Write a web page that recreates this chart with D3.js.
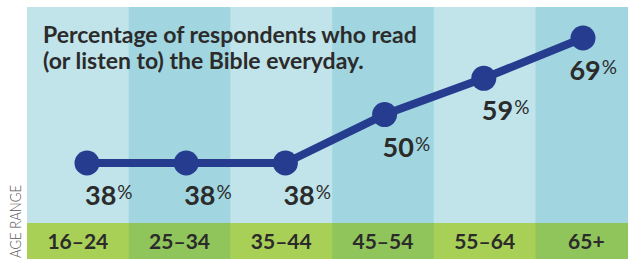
<!DOCTYPE html>
<html>
<head>
<meta charset="utf-8">
<script src="https://cdn.jsdelivr.net/npm/d3@7"></script>
<style>
  body { margin: 0; background: #fff; }
  svg { display: block; }
</style>
</head>
<body>
<svg width="628" height="259"></svg>
<script>
const ageRanges = ["16-24", "25-34", "35-44", "45-54", "55-64", "65+"];
const readersPct = [38, 38, 38, 50, 59, 69];
const titleLines = ["Percentage of respondents who read", "(or listen to) the Bible everyday."];
const axisTitle = "AGE RANGE";

const width = 628, height = 259;
const plotLeft = 27, plotTop = 7, bandTop = 223;
const colW = 101.7;

const svg = d3.select("svg");

const x = d3.scaleBand()
    .domain(ageRanges)
    .range([plotLeft, plotLeft + colW * ageRanges.length])
    .paddingInner(0);

const px = d3.scalePoint()
    .domain(ageRanges)
    .range([87, 583]);

const y = d3.scaleLinear()
    .domain([38, 69])
    .range([163, 38]);

// background columns
svg.append("g").selectAll("rect")
    .data(ageRanges)
    .enter().append("rect")
    .attr("x", d => x(d))
    .attr("y", plotTop)
    .attr("width", x.bandwidth() + 0.5)
    .attr("height", bandTop - plotTop)
    .attr("fill", (d, i) => i % 2 ? "#a1d6e0" : "#c1e3ea");

// green age band
svg.append("g").selectAll("rect")
    .data(ageRanges)
    .enter().append("rect")
    .attr("x", d => x(d))
    .attr("y", bandTop)
    .attr("width", x.bandwidth() + 0.5)
    .attr("height", height - bandTop)
    .attr("fill", (d, i) => i % 2 ? "#8fc55a" : "#a9d056");

svg.append("g").selectAll("text")
    .data(ageRanges)
    .enter().append("text")
    .attr("x", d => x(d) + x.bandwidth() / 2)
    .attr("y", 249)
    .attr("text-anchor", "middle")
    .attr("font-family", "Lato, sans-serif")
    .attr("font-weight", 700)
    .attr("font-size", 21)
    .attr("fill", "#2b2b2b")
    .text(d => d.replace("-", "\u2013"));

// axis title
svg.append("text")
    .attr("transform", "translate(21,258) rotate(-90)")
    .attr("font-family", "Lato, sans-serif")
    .attr("font-weight", 300)
    .attr("font-size", 16.5)
    .attr("fill", "#555")
    .attr("textLength", 73)
    .attr("lengthAdjust", "spacingAndGlyphs")
    .text(axisTitle);

// title
svg.append("text")
    .attr("font-family", "Lato, sans-serif")
    .attr("font-weight", 700)
    .attr("font-size", 23)
    .attr("fill", "#2b2b2b")
    .selectAll("tspan")
    .data(titleLines)
    .enter().append("tspan")
    .attr("x", 43)
    .attr("y", (d, i) => 43 + i * 26)
    .text(d => d);

const points = ageRanges.map((a, i) => ({ age: a, value: readersPct[i] }));

const line = d3.line()
    .x(d => px(d.age))
    .y(d => y(d.value));

svg.append("path")
    .datum(points)
    .attr("d", line)
    .attr("fill", "none")
    .attr("stroke", "#263c8f")
    .attr("stroke-width", 8)
    .attr("stroke-linejoin", "round");

svg.append("g").selectAll("circle")
    .data(points)
    .enter().append("circle")
    .attr("cx", d => px(d.age))
    .attr("cy", d => y(d.value))
    .attr("r", 12.5)
    .attr("fill", "#263c8f");

// value labels
const labels = svg.append("g").selectAll("text")
    .data(points)
    .enter().append("text")
    .attr("x", d => px(d.age) - 2)
    .attr("y", d => y(d.value) + 42)
    .attr("font-family", "Lato, sans-serif")
    .attr("fill", "#2b2b2b");

labels.append("tspan")
    .attr("font-size", 27)
    .attr("font-weight", 700)
    .text(d => d.value);

labels.append("tspan")
    .attr("font-size", 19)
    .attr("font-weight", 400)
    .attr("dx", 1)
    .attr("dy", -6)
    .text("%");

// keep the last label inside the chart
labels.each(function() {
    const bb = this.getBBox();
    const maxRight = width - 11;
    if (bb.x + bb.width > maxRight) {
        d3.select(this).attr("x", maxRight - bb.width);
    }
});
</script>
</body>
</html>
